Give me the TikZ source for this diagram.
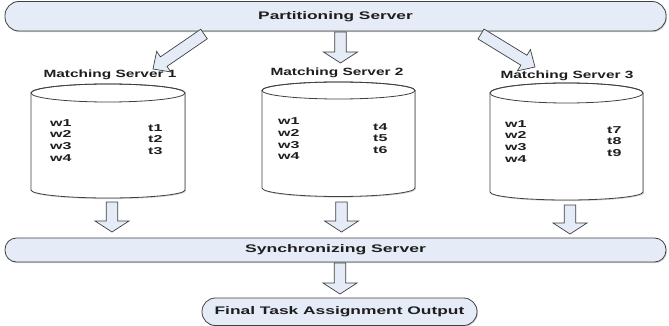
\documentclass[tikz,border=0pt]{standalone}
\usepackage{fontspec}
\setmainfont{Liberation Sans}
\usetikzlibrary{calc,shadows}

\definecolor{linec}{HTML}{404040}
\definecolor{boxfill}{HTML}{E5ECF7}
\definecolor{textc}{HTML}{1E1E1E}

% horizontally widened text
\newcommand\hsx[2]{\scalebox{#1}[1]{#2}}

\tikzset{
  softshadow/.style={drop shadow={shadow xshift=0.9pt, shadow yshift=-1.1pt, opacity=0.35}},
  server/.style={draw=linec, fill=boxfill, line width=0.8pt, rounded corners=#1,
    inner sep=0pt, text=textc, font=\fontsize{11}{13}\selectfont\bfseries, softshadow},
  mlabel/.style={inner sep=0pt, text=textc, font=\fontsize{10.5}{12}\selectfont\bfseries},
  cell/.style={inner sep=0pt, text=textc, font=\fontsize{10}{11.7}\selectfont\bfseries},
  drumbody/.style={draw=linec, fill=white, line width=0.8pt, softshadow},
  drumline/.style={draw=linec, line width=0.8pt},
  barrow/.style={draw=linec, fill=boxfill, line width=0.7pt, line join=miter},
}

% hollow block arrow from #1 to #2, head half width #3, head length #4
\newcommand\blockarrow[4]{%
  \draw[barrow] let \p1=(#1), \p2=(#2),
      \n1={atan2(\y2-\y1,\x2-\x1)}, \n2={veclen(\x2-\x1,\y2-\y1)} in
    ($(\p1)+(\n1+90:5.8)$)
    -- ($(\p1)+(\n1:\n2-#4)+(\n1+90:5.8)$)
    -- ($(\p1)+(\n1:\n2-#4)+(\n1+90:#3)$)
    -- (\p2)
    -- ($(\p1)+(\n1:\n2-#4)+(\n1-90:#3)$)
    -- ($(\p1)+(\n1:\n2-#4)+(\n1-90:5.8)$)
    -- ($(\p1)+(\n1-90:5.8)$) -- cycle;}

% database drum: name, left, right, top centre y, top radius, bottom centre y, bottom radius
\newcommand\drum[7]{%
  \node[inner sep=0pt, minimum width={(#3-#2)*1pt}, minimum height={(#6+#7-#4+#5)*1pt}]
    (#1) at ({(#2+#3)/2},{-(#4-#5+#6+#7)/2}) {};
  \path[drumbody] (#2,-#4) -- (#2,-#6)
    arc[start angle=180, end angle=360, x radius={(#3-#2)/2*1pt}, y radius=#7pt]
    -- (#3,-#4)
    arc[start angle=0, end angle=180, x radius={(#3-#2)/2*1pt}, y radius=#5pt] -- cycle;
  \draw[drumline] ({(#2+#3)/2},-#4) ellipse[x radius={(#3-#2)/2*1pt}, y radius=#5pt];}

\newcommand\col[1]{\hsx{1.6}{\begin{tabular}{@{}l@{}}#1\end{tabular}}}

\begin{document}
\begin{tikzpicture}[x=1pt,y=1pt]
\useasboundingbox (0,0) rectangle (669,-326);

% top server
\node[server=14pt, minimum width=661pt, minimum height=29.5pt] (part) at (335.5,-16.25)
  {\hsx{1.57}{Partitioning Server}};

% matching servers
\node[mlabel] (ms1) at (110,-75) {\hsx{1.47}{Matching Server 1}};
\node[mlabel] (ms2) at (337,-73) {\hsx{1.47}{Matching Server 2}};
\node[mlabel] (ms3) at (567,-76) {\hsx{1.47}{Matching Server 3}};

\drum{cyl1}{31}{185}{93}{9}{190}{8}
\drum{cyl2}{262}{415}{90.5}{8.5}{188}{8.5}
\drum{cyl3}{490}{643}{93}{10}{192}{8}

\node[cell, anchor=west] (w1) at (50,-141.5)  {\col{w1\\w2\\w3\\w4}};
\node[cell, anchor=west] (t1) at (148,-140.5) {\col{t1\\t2\\t3}};
\node[cell, anchor=west] (w2) at (278,-140)   {\col{w1\\w2\\w3\\w4}};
\node[cell, anchor=west] (t2) at (373,-139.5) {\col{t4\\t5\\t6}};
\node[cell, anchor=west] (w3) at (505,-142.5) {\col{w1\\w2\\w3\\w4}};
\node[cell, anchor=west] (t3) at (607,-142.5) {\col{t7\\t8\\t9}};

% synchronizing server and final output
\node[server=11.5pt, minimum width=661pt, minimum height=24pt] (sync) at (335.5,-250)
  {\hsx{1.6}{Synchronizing Server}};
\node[server=13.5pt, minimum width=275pt, minimum height=27.5pt] (final) at (339.5,-311.75)
  {\hsx{1.58}{Final Task Assignment Output}};

% arrow end points
\coordinate (pa1) at (204,-34);   \coordinate (ma1) at (153,-69);
\coordinate (pa2) at (340.5,-32); \coordinate (ma2) at (340.5,-63);
\coordinate (pa3) at (481,-34);   \coordinate (ma3) at (535,-67);
\coordinate (ca1) at (112,-202);  \coordinate (sa1) at (112,-232);
\coordinate (ca2) at (341.5,-202);\coordinate (sa2) at (341.5,-232);
\coordinate (ca3) at (570,-205);  \coordinate (sa3) at (570,-234);
\coordinate (sf1) at (340,-263);  \coordinate (ff1) at (340,-294);

\blockarrow{pa1}{ma1}{12.5}{13}
\blockarrow{pa2}{ma2}{17}{11}
\blockarrow{pa3}{ma3}{12.5}{13}
\blockarrow{ca1}{sa1}{17}{11}
\blockarrow{ca2}{sa2}{17}{11}
\blockarrow{ca3}{sa3}{17}{11}
\blockarrow{sf1}{ff1}{17}{11}
\end{tikzpicture}
\end{document}
